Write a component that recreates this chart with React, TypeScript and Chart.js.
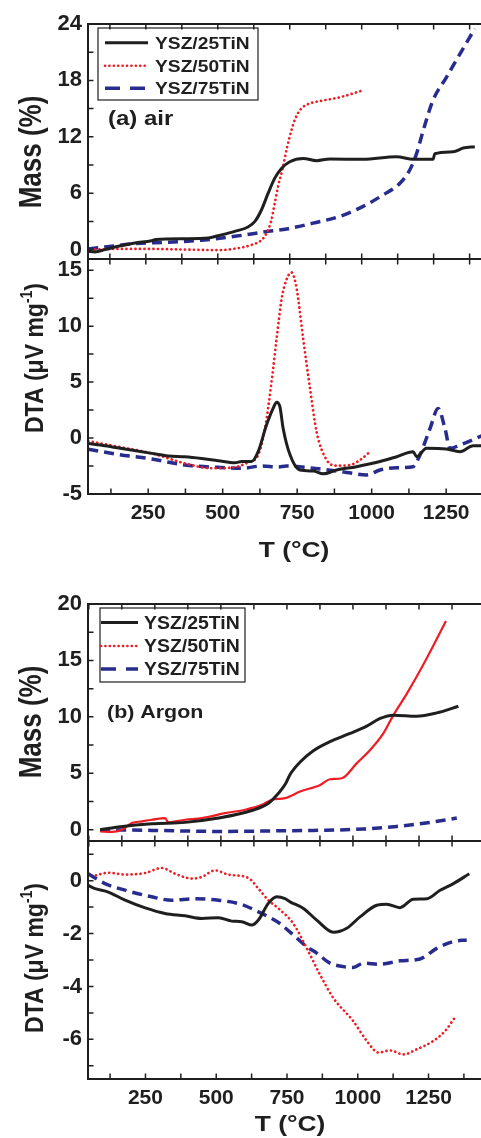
import React, { useEffect, useRef } from "react";
import { Chart, registerables } from "chart.js";

Chart.register(...registerables);

type Pt = [number, number];

// ---------- series names & tick labels ----------
const SERIES = ["YSZ/25TiN", "YSZ/50TiN", "YSZ/75TiN"];
const X_LABELS = [250, 500, 750, 1000, 1250];
const AIR_MASS_Y_LABELS = [0, 6, 12, 18, 24];
const AIR_DTA_Y_LABELS = [-5, 0, 5, 10, 15];
const AR_MASS_Y_LABELS = [0, 5, 10, 15, 20];
const AR_DTA_Y_LABELS = [-6, -4, -2, 0];

// ---------- (a) air : mass (%) vs T (°C) ----------
const airMass25: Pt[] = [[50, -0.18], [73, -0.25], [108, 0], [154, 0.35], [212, 0.7], [270, 0.95], [285, 1.08], [386, 1.16], [467, 1.23], [501, 1.48], [559, 1.94], [605, 2.4], [629, 3.0], [652, 4.24], [675, 6.0], [698, 7.6], [722, 8.65], [750, 9.35], [797, 9.7], [843, 9.46], [889, 9.64], [1005, 9.6], [1121, 9.88], [1179, 9.6], [1248, 9.6], [1254, 10.2], [1318, 10.4], [1353, 10.8], [1393, 10.94]];
const airMass50: Pt[] = [[73, 0], [154, 0.07], [270, 0.07], [386, 0], [501, -0.05], [559, 0.1], [617, 0.5], [655, 1.1], [672, 1.9], [685, 3.0], [697, 4.8], [710, 6.8], [725, 8.6], [740, 10.8], [755, 12.6], [770, 14.0], [790, 15.0], [815, 15.5], [855, 15.8], [924, 16.2], [1000, 16.9]];
const airMass75: Pt[] = [[50, 0.07], [108, 0.28], [212, 0.63], [328, 0.78], [444, 1.0], [559, 1.41], [675, 1.94], [740, 2.2], [831, 2.82], [924, 3.53], [1005, 4.6], [1075, 5.83], [1133, 7.06], [1167, 8.47], [1191, 10.24], [1214, 12.7], [1248, 15.9], [1295, 18.36], [1341, 20.8], [1393, 23.5]];

// ---------- (a) air : DTA (µV mg-1) ----------
const airDta25: Pt[] = [[49, -0.48], [105, -0.68], [172, -0.98], [262, -1.37], [317, -1.6], [373, -1.67], [429, -1.82], [485, -2.02], [541, -2.2], [564, -2.1], [597, -2.1], [619, -1.22], [647, 1.16], [670, 2.7], [681, 3.2], [692, 2.8], [703, 0.86], [726, -1.5], [759, -2.86], [804, -2.95], [837, -3.2], [882, -2.86], [949, -2.56], [1028, -2.1], [1084, -1.67], [1139, -1.22], [1151, -1.67], [1184, -0.92], [1251, -0.98], [1296, -1.22], [1341, -0.69], [1375, -0.69]];
const airDta50: Pt[] = [[49, -0.27], [149, -0.77], [262, -1.37], [373, -2.26], [463, -2.7], [530, -2.65], [586, -2.17], [619, -1.52], [642, 0.86], [664, 5.03], [681, 8.9], [698, 12.47], [712, 14.0], [731, 14.8], [748, 13.37], [770, 8.9], [793, 4.44], [815, 0.56], [849, -1.96], [882, -2.47], [927, -2.41], [961, -1.96], [988, -1.37]];
const airDta75: Pt[] = [[49, -1.0], [149, -1.46], [262, -1.87], [373, -2.41], [485, -2.62], [564, -2.7], [631, -2.5], [686, -2.59], [714, -2.5], [804, -2.7], [916, -3.07], [983, -3.3], [1028, -2.86], [1084, -2.65], [1139, -2.56], [1162, -1.52], [1196, 0.86], [1223, 2.65], [1246, 0.86], [1263, -0.92], [1296, -0.63], [1375, 0.27]];

// ---------- (b) Argon : mass (%) ----------
const arMass25: Pt[] = [[43, 0], [112, 0.24], [239, 0.53], [365, 0.65], [491, 1.03], [617, 1.7], [680, 2.35], [718, 3.24], [743, 4.0], [762, 4.9], [800, 6.0], [850, 7.0], [913, 7.8], [989, 8.53], [1052, 9.18], [1103, 9.86], [1153, 10.15], [1241, 10.06], [1317, 10.35], [1399, 10.94]];
const arMass50: Pt[] = [[43, -0.15], [87, -0.2], [125, 0], [163, 0.59], [201, 0.74], [239, 0.88], [289, 1.03], [301, 0.65], [365, 0.88], [428, 1.03], [516, 1.47], [592, 1.77], [655, 2.2], [693, 2.65], [743, 2.8], [800, 3.38], [876, 3.97], [913, 4.47], [958, 4.56], [1014, 5.88], [1065, 7.06], [1115, 8.53], [1153, 10.15], [1204, 12.06], [1254, 14.1], [1304, 16.3], [1352, 18.5]];
const arMass75: Pt[] = [[43, 0], [239, -0.06], [491, -0.15], [743, -0.09], [850, -0.06], [1039, 0.06], [1166, 0.29], [1292, 0.65], [1393, 1.03]];

// ---------- (b) Argon : DTA ----------
const arDta25: Pt[] = [[48, -0.18], [72, -0.3], [119, -0.43], [178, -0.74], [249, -1.03], [319, -1.24], [390, -1.33], [449, -1.43], [508, -1.4], [555, -1.53], [590, -1.55], [626, -1.68], [649, -1.49], [684, -0.86], [714, -0.61], [743, -0.68], [761, -0.8], [808, -1.05], [855, -1.49], [914, -1.95], [961, -1.8], [1008, -1.37], [1067, -0.93], [1102, -0.89], [1149, -1.02], [1196, -0.7], [1244, -0.68], [1291, -0.36], [1338, -0.11], [1394, 0.26]];
const arDta50: Pt[] = [[75, 0.2], [119, 0.3], [178, 0.23], [249, 0.29], [308, 0.48], [355, 0.26], [414, 0.08], [449, 0.14], [496, 0.39], [543, 0.23], [614, 0.1], [649, -0.3], [684, -0.74], [720, -1.05], [772, -1.62], [820, -2.56], [867, -3.56], [914, -4.44], [984, -5.31], [1032, -6.06], [1073, -6.5], [1114, -6.42], [1161, -6.57], [1208, -6.38], [1267, -6.06], [1308, -5.69], [1344, -5.16]];
const arDta75: Pt[] = [[48, 0.26], [107, -0.11], [178, -0.36], [272, -0.61], [343, -0.74], [425, -0.68], [508, -0.74], [590, -0.9], [649, -1.18], [696, -1.43], [725, -1.62], [743, -1.78], [772, -2.05], [820, -2.5], [855, -2.74], [902, -3.12], [949, -3.25], [984, -3.28], [1020, -3.12], [1079, -3.16], [1149, -3.03], [1220, -2.96], [1279, -2.56], [1338, -2.3], [1385, -2.24]];

// ---------- styles ----------
const INK = "#1f1f1f";
const RED = "#f01c24";
const BLUE = "#272c8e";
const FONT = '"Liberation Sans", Arial, sans-serif';
const CW = 490;
const CH = 1138;
const PLOT_LEFT = 88;
const PLOT_RIGHT = 484;
const TICK = 5.5;
const X_MINOR = 125;

type Legend = { x: number; y: number; w: number; h: number; rows: number[]; s0: number; s1: number; tx: number; size: number; sx: number };
type PanelCfg = {
  top: number; bottom: number;
  x: [number, number]; xTop: [number, number];
  y: [number, number]; yStep: number; yLabels: number[]; yMinor: number;
  showX: boolean; data: Pt[][]; redSolid: boolean;
  title: { kind: "mass" | "dta"; cx: number; cy: number };
  legend?: Legend;
  label?: { text: string; x: number; y: number; size: number; sx: number };
  xTitle?: { x: number; y: number };
};

const PANELS: PanelCfg[] = [
  {
    top: 24, bottom: 259, x: [49, 1425], xTop: [49, 1425], y: [-1, 24], yStep: 6, yLabels: AIR_MASS_Y_LABELS, yMinor: 3,
    showX: false, data: [airMass25, airMass50, airMass75], redSolid: false,
    title: { kind: "mass", cx: 30, cy: 152 },
    legend: { x: 98, y: 28, w: 160, h: 72, rows: [42.8, 65.8, 88.3], s0: 105, s1: 148, tx: 155, size: 17, sx: 1.13 },
    label: { text: "(a) air", x: 108, y: 118, size: 20, sx: 1.2 },
  },
  {
    top: 259, bottom: 494, x: [48, 1377], xTop: [49, 1425], y: [-5, 16], yStep: 5, yLabels: AIR_DTA_Y_LABELS, yMinor: 2.5,
    showX: true, data: [airDta25, airDta50, airDta75], redSolid: false,
    title: { kind: "dta", cx: 34, cy: 358 },
    xTitle: { x: 294, y: 549.5 },
  },
  {
    top: 604, bottom: 841, x: [-3, 1496], xTop: [-3, 1496], y: [-1, 20], yStep: 5, yLabels: AR_MASS_Y_LABELS, yMinor: 2.5,
    showX: false, data: [arMass25, arMass50, arMass75], redSolid: true,
    title: { kind: "mass", cx: 30, cy: 722 },
    legend: { x: 100, y: 608, w: 145, h: 74, rows: [622.5, 646, 669], s0: 101, s1: 138, tx: 144, size: 18, sx: 1.08 },
    label: { text: "(b) Argon", x: 107, y: 711.5, size: 18, sx: 1.19 },
  },
  {
    top: 841, bottom: 1079, x: [47, 1446], xTop: [-3, 1496], y: [-7.5, 1.5], yStep: 2, yLabels: AR_DTA_Y_LABELS, yMinor: 1,
    showX: true, data: [arDta25, arDta50, arDta75], redSolid: false,
    title: { kind: "dta", cx: 34, cy: 958 },
    xTitle: { x: 290, y: 1123 },
  },
];

function stretchedText(ctx: CanvasRenderingContext2D, text: string, x: number, y: number, size: number, sx: number, align: CanvasTextAlign) {
  ctx.save();
  ctx.font = `bold ${size}px ${FONT}`;
  ctx.fillStyle = INK;
  ctx.translate(x, y);
  ctx.scale(sx, 1);
  ctx.textAlign = align;
  ctx.textBaseline = "alphabetic";
  ctx.fillText(text, 0, size * 0.358);
  ctx.restore();
}

function yTitle(ctx: CanvasRenderingContext2D, kind: "mass" | "dta", cx: number, cy: number) {
  const parts: { t: string; sup?: boolean }[] =
    kind === "mass" ? [{ t: "Mass (%)" }] : [{ t: "DTA (\u03bcV mg" }, { t: "-1", sup: true }, { t: ")" }];
  const size = kind === "mass" ? 26 : 23;
  const sx = kind === "mass" ? 1.2 : 1.12;
  const supSize = Math.round(size * 0.62);
  ctx.save();
  ctx.translate(cx, cy);
  ctx.scale(sx, 1);
  ctx.rotate(-Math.PI / 2);
  ctx.fillStyle = INK;
  ctx.textAlign = "left";
  ctx.textBaseline = "alphabetic";
  const widths = parts.map((p) => {
    ctx.font = `bold ${p.sup ? supSize : size}px ${FONT}`;
    return ctx.measureText(p.t).width;
  });
  const total = widths.reduce((a, b) => a + b, 0);
  let x = -total / 2;
  const base = size * 0.358;
  parts.forEach((p, i) => {
    ctx.font = `bold ${p.sup ? supSize : size}px ${FONT}`;
    ctx.fillText(p.t, x, p.sup ? base - size * 0.45 : base);
    x += widths[i];
  });
  ctx.restore();
}

const LEGEND_STYLES = [
  { color: INK, width: 3, dash: [] as number[], cap: "butt" as CanvasLineCap },
  { color: RED, width: 2.6, dash: [0.1, 4.3], cap: "round" as CanvasLineCap },
  { color: BLUE, width: 3.4, dash: [15, 10], cap: "butt" as CanvasLineCap },
];

function makeFramePlugin(cfg: PanelCfg) {
  return {
    id: "frame",
    afterDraw(chart: any) {
      const ctx: CanvasRenderingContext2D = chart.ctx;
      const a = chart.chartArea;
      const xs = chart.scales.x;
      const ys = chart.scales.y;
      ctx.save();
      ctx.strokeStyle = INK;
      ctx.lineWidth = 1.5;
      ctx.beginPath();
      // bottom ticks (own x scale)
      for (let v = Math.ceil(xs.min / X_MINOR) * X_MINOR; v <= xs.max; v += X_MINOR) {
        const px = xs.getPixelForValue(v);
        ctx.moveTo(px, a.bottom);
        ctx.lineTo(px, a.bottom - TICK);
      }
      // top ticks (the mass layer's x axis)
      const [t0, t1] = cfg.xTop;
      for (let v = Math.ceil(t0 / X_MINOR) * X_MINOR; v <= t1; v += X_MINOR) {
        const px = a.left + ((v - t0) / (t1 - t0)) * (a.right - a.left);
        ctx.moveTo(px, a.top);
        ctx.lineTo(px, a.top + TICK);
      }
      // left ticks
      for (let v = Math.ceil(ys.min / cfg.yMinor - 1e-9) * cfg.yMinor; v <= ys.max + 1e-9; v += cfg.yMinor) {
        const py = ys.getPixelForValue(v);
        ctx.moveTo(a.left, py);
        ctx.lineTo(a.left + TICK, py);
      }
      ctx.stroke();
      ctx.lineWidth = 2;
      ctx.strokeRect(a.left, a.top, a.right - a.left, a.bottom - a.top);
      ctx.restore();

      yTitle(ctx, cfg.title.kind, cfg.title.cx, cfg.title.cy);
      if (cfg.xTitle) stretchedText(ctx, "T (\u00b0C)", cfg.xTitle.x, cfg.xTitle.y, 22, 1.2, "center");
      if (cfg.label) stretchedText(ctx, cfg.label.text, cfg.label.x, cfg.label.y, cfg.label.size, cfg.label.sx, "left");
      const L = cfg.legend;
      if (L) {
        ctx.save();
        ctx.strokeStyle = INK;
        ctx.lineWidth = 1.2;
        ctx.strokeRect(L.x, L.y, L.w, L.h);
        L.rows.forEach((ry, i) => {
          const st = LEGEND_STYLES[i];
          ctx.save();
          ctx.strokeStyle = st.color;
          ctx.lineWidth = st.width;
          ctx.lineCap = st.cap;
          ctx.setLineDash(st.dash);
          ctx.beginPath();
          ctx.moveTo(L.s0, ry);
          ctx.lineTo(L.s1, ry);
          ctx.stroke();
          ctx.restore();
          stretchedText(ctx, SERIES[i], L.tx, ry, L.size, L.sx, "left");
        });
        ctx.restore();
      }
    },
  };
}

function Panel({ cfg }: { cfg: PanelCfg }) {
  const ref = useRef<HTMLCanvasElement>(null);
  useEffect(() => {
    const canvas = ref.current;
    if (!canvas) return;
    const xTickFont = { family: FONT, size: 21, weight: "bold" as const };
    const yTickFont = { family: FONT, size: 22, weight: "bold" as const };
    const styles = [
      { borderColor: INK, borderWidth: 3, borderDash: [] as number[], borderCapStyle: "butt" },
      cfg.redSolid
        ? { borderColor: RED, borderWidth: 2.2, borderDash: [] as number[], borderCapStyle: "butt" }
        : { borderColor: RED, borderWidth: 2.7, borderDash: [0.1, 4.4], borderCapStyle: "round" },
      { borderColor: BLUE, borderWidth: 3.5, borderDash: [10, 6], borderCapStyle: "butt" },
    ];
    const chart = new Chart(canvas, {
      type: "line",
      data: {
        datasets: cfg.data.map((pts, i) => ({
          label: SERIES[i],
          data: pts.map(([x, y]) => ({ x, y })),
          ...styles[i],
          pointRadius: 0,
          fill: false,
          cubicInterpolationMode: "monotone",
        })) as any,
      },
      options: {
        animation: false,
        responsive: false,
        devicePixelRatio: 1,
        events: [],
        layout: {
          padding: { top: cfg.top, left: 0, right: CW - PLOT_RIGHT, bottom: cfg.showX ? 0 : CH - cfg.bottom },
        },
        plugins: { legend: { display: false }, tooltip: { enabled: false }, title: { display: false } },
        scales: {
          x: {
            type: "linear",
            display: cfg.showX,
            min: cfg.x[0],
            max: cfg.x[1],
            grid: { display: false, drawTicks: false },
            border: { display: false },
            ticks: {
              stepSize: 250,
              includeBounds: false,
              autoSkip: false,
              maxRotation: 0,
              padding: 7,
              font: xTickFont,
              color: INK,
              callback: (v: any) => (X_LABELS.includes(Number(v)) ? String(v) : ""),
            },
            afterFit: (s: any) => {
              if (cfg.showX) s.height = CH - cfg.bottom;
            },
          },
          y: {
            type: "linear",
            min: cfg.y[0],
            max: cfg.y[1],
            grid: { display: false, drawTicks: false },
            border: { display: false },
            ticks: {
              stepSize: cfg.yStep,
              includeBounds: false,
              autoSkip: false,
              padding: 6,
              font: yTickFont,
              color: INK,
              callback: (v: any) => (cfg.yLabels.includes(Number(v)) ? String(v) : ""),
            },
            afterFit: (s: any) => {
              s.width = PLOT_LEFT;
            },
          },
        },
      } as any,
      plugins: [makeFramePlugin(cfg)],
    });
    return () => chart.destroy();
  }, [cfg]);
  return (
    <canvas
      ref={ref}
      width={CW}
      height={CH}
      style={{ position: "absolute", left: 0, top: 0, width: CW, height: CH }}
    />
  );
}

export default function App() {
  return (
    <div
      style={{
        position: "absolute",
        left: 0,
        top: 0,
        width: 481,
        height: 1138,
        overflow: "hidden",
        background: "#ffffff",
      }}
    >
      {PANELS.map((cfg, i) => (
        <Panel key={i} cfg={cfg} />
      ))}
    </div>
  );
}
